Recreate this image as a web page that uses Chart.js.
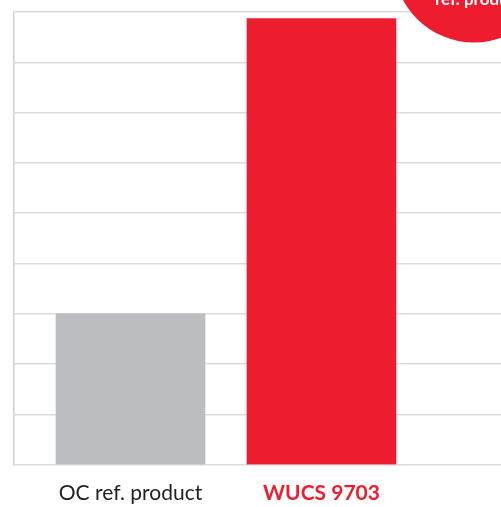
<!DOCTYPE html>
<html>
<head>
<meta charset="utf-8">
<script src="https://cdn.jsdelivr.net/npm/chart.js@4"></script>
<style>
    html, body { margin: 0; padding: 0; background: #fff; overflow: hidden; }
    #wrap { width: 501px; height: 522px; position: relative; }
</style>
</head>
<body>
<div id="wrap"><canvas id="chart"></canvas></div>
<script>
// Chart data
const categories = ['OC ref. product', 'WUCS 9703'];
const values = [3, 8.87];
const barColors = ['#bcbdc0', '#ed1c2e'];
const yTicks = [0, 1, 2, 3, 4, 5, 6, 7, 8, 9];
const badgeText = 'ref. product';

// Red badge in the top right corner, partly off the canvas
const badgePlugin = {
    id: 'badge',
    afterDraw(chart) {
        const ctx = chart.ctx;
        ctx.save();
        ctx.beginPath();
        ctx.arc(474, -38, 80.5, 0, Math.PI * 2);
        ctx.fillStyle = '#ed1c2e';
        ctx.fill();
        ctx.fillStyle = '#ffffff';
        ctx.font = 'bold 17px Lato';
        ctx.textAlign = 'left';
        ctx.textBaseline = 'alphabetic';
        ctx.fillText(badgeText, 435, 5);
        ctx.restore();
    }
};

const ctx = document.getElementById('chart').getContext('2d');
new Chart(ctx, {
    type: 'bar',
    data: {
        datasets: [{
            data: values.map((v, i) => ({ x: i + 1, y: v })),
            backgroundColor: barColors,
            borderWidth: 0,
            barThickness: 149
        }]
    },
    options: {
        responsive: true,
        maintainAspectRatio: false,
        animation: false,
        layout: { padding: { left: 14, top: 12, right: 0, bottom: 0 } },
        plugins: {
            legend: { display: false },
            tooltip: { enabled: false }
        },
        scales: {
            x: {
                type: 'linear',
                offset: false,
                min: 0.39,
                max: 2.94,
                grid: { display: false, drawTicks: false },
                border: { display: false },
                afterBuildTicks: axis => {
                    axis.ticks = categories.map((c, i) => ({ value: i + 1 }));
                },
                ticks: {
                    padding: 16,
                    maxRotation: 0,
                    autoSkip: false,
                    callback: value => categories[value - 1] || '',
                    color: c => c.index === 1 ? '#ed1c2e' : '#222222',
                    font: c => ({
                        family: 'Lato',
                        size: 21,
                        weight: c.index === 1 ? 'bold' : 'normal'
                    })
                }
            },
            y: {
                min: yTicks[0],
                max: yTicks[yTicks.length - 1],
                afterBuildTicks: axis => {
                    axis.ticks = yTicks.map(v => ({ value: v }));
                },
                grid: {
                    color: '#dcdcdc',
                    lineWidth: 1.5,
                    drawTicks: false
                },
                border: { display: true, color: '#d2d2d2', width: 1.5 },
                ticks: { display: false }
            }
        }
    },
    plugins: [badgePlugin]
});
</script>
</body>
</html>
